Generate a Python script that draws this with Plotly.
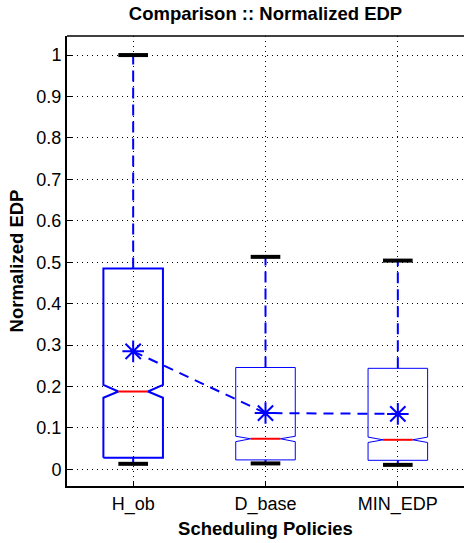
import plotly.graph_objects as go

categories = ["H_ob", "D_base", "MIN_EDP"]
upper_whisker = [1.0, 0.513, 0.504]
q3 = [0.485, 0.246, 0.244]
median = [0.188, 0.074, 0.0715]
notch_hi = [0.204, 0.080, 0.078]
notch_lo = [0.173, 0.067, 0.065]
q1 = [0.028, 0.023, 0.022]
lower_whisker = [0.0135, 0.0145, 0.011]
means = [0.285, 0.136, 0.134]
box_line_width = [2, 1, 1]

BLUE = "#0000ff"
HALF = 0.225
NOTCH = 0.112

fig = go.Figure()
pos = [1, 2, 3]

for i, c in enumerate(pos):
    # whiskers
    fig.add_trace(go.Scatter(x=[c, c], y=[q3[i], upper_whisker[i]], mode="lines",
                             line=dict(color=BLUE, width=2, dash="11px,6px"), hoverinfo="skip"))
    fig.add_trace(go.Scatter(x=[c, c], y=[lower_whisker[i], q1[i]], mode="lines",
                             line=dict(color=BLUE, width=2), hoverinfo="skip"))
    # box with notch
    xs = [c - HALF, c - HALF, c - NOTCH, c - HALF, c - HALF, c + HALF, c + HALF, c + NOTCH,
          c + HALF, c + HALF, c - HALF]
    ys = [q1[i], notch_lo[i], median[i], notch_hi[i], q3[i], q3[i], notch_hi[i], median[i],
          notch_lo[i], q1[i], q1[i]]
    fig.add_trace(go.Scatter(x=xs, y=ys, mode="lines",
                             line=dict(color=BLUE, width=box_line_width[i]), hoverinfo="skip"))
    # median
    fig.add_trace(go.Scatter(x=[c - NOTCH, c + NOTCH], y=[median[i], median[i]], mode="lines",
                             line=dict(color="#ff0000", width=2), hoverinfo="skip"))
    # caps
    for v in (upper_whisker[i], lower_whisker[i]):
        fig.add_trace(go.Scatter(x=[c - NOTCH, c + NOTCH], y=[v, v], mode="lines",
                                 line=dict(color="black", width=4), hoverinfo="skip"))

fig.add_trace(go.Scatter(x=pos, y=means, mode="lines+markers",
                         line=dict(color=BLUE, width=2, dash="10px,7px"),
                         marker=dict(symbol="asterisk-open", size=18,
                                     line=dict(color=BLUE, width=2)),
                         hoverinfo="skip"))

fig.update_layout(
    width=464, height=543,
    margin=dict(l=67, r=0, t=36, b=57),
    paper_bgcolor="white", plot_bgcolor="white",
    showlegend=False,
    font=dict(family="Liberation Sans, Arial", color="black", size=18),
    title=dict(text="<b>Comparison :: Normalized EDP</b>", x=0.5, xanchor="center",
               y=1 - 14 / 543, yanchor="middle", xref="paper",
               font=dict(size=18.5, color="black")),
    shapes=[dict(type="line", xref="paper", yref="paper", x0=0, x1=1, y0=1, y1=1,
                 line=dict(color="black", width=1.5))],
)
fig.update_xaxes(
    range=[0.5, 3.5], tickvals=pos, ticktext=categories,
    showline=True, linecolor="black", linewidth=2, mirror=False,
    ticks="inside", ticklen=5, tickcolor="black",
    showgrid=True, gridcolor="black", griddash="1px,4px", gridwidth=1,
    zeroline=False, automargin=False,
    tickfont=dict(size=18),
    title=dict(text="<b>Scheduling Policies</b>", font=dict(size=18.5), standoff=8),
)
fig.update_yaxes(
    range=[-0.040, 1.046], tickvals=[i / 10 for i in range(11)],
    ticktext=["0", "0.1", "0.2", "0.3", "0.4", "0.5", "0.6", "0.7", "0.8", "0.9", "1"],
    showline=True, linecolor="black", linewidth=2,
    ticks="inside", ticklen=5, tickcolor="black",
    showgrid=True, gridcolor="black", griddash="1px,4px", gridwidth=1,
    zeroline=False, automargin=False,
    tickfont=dict(size=18),
    title=dict(text="<b>Normalized EDP</b>", font=dict(size=18.5), standoff=8),
)

fig.write_html("out.html")
